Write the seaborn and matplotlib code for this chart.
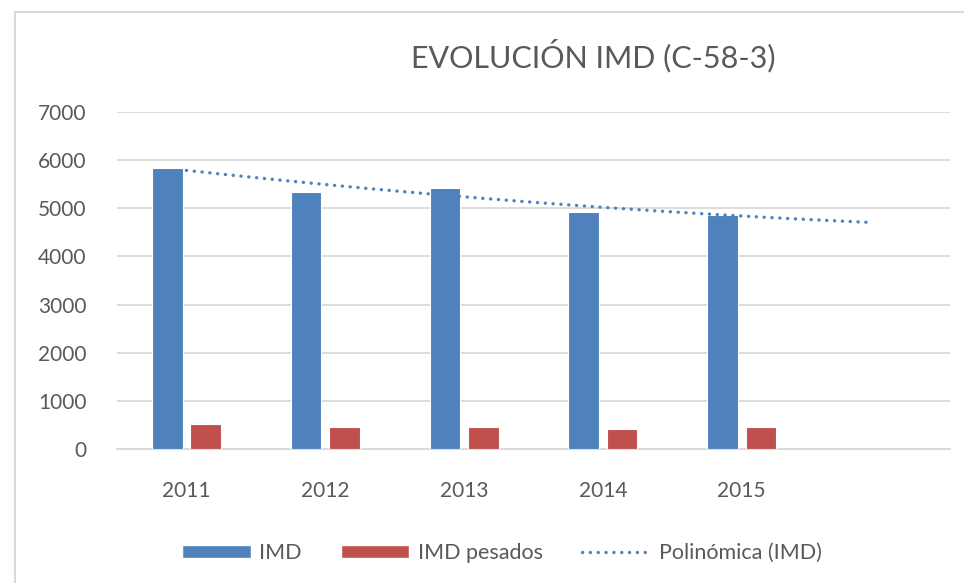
#!/usr/bin/env python3
"""
Evolución IMD (C-58-3)
Bar chart of IMD and heavy-vehicle IMD per year with a 2nd order trendline.
"""
import matplotlib
matplotlib.use('Agg')
import matplotlib.pyplot as plt
import numpy as np
import pandas as pd
import seaborn as sns
from matplotlib.lines import Line2D
from matplotlib.patches import Patch

# Data
years = ['2011', '2012', '2013', '2014', '2015']
imd = [5830, 5345, 5428, 4916, 4860]
imd_pesados = [520, 450, 450, 415, 450]
series_names = ['IMD', 'IMD pesados']
trend_name = 'Polinómica (IMD)'
y_ticks = [0, 1000, 2000, 3000, 4000, 5000, 6000, 7000]

BLUE = '#4F81BD'
RED = '#C0504D'
GRID = '#D9D9D9'
TEXT = '#595959'

sns.set_theme(style='white')
plt.rcParams['font.family'] = ['Lato', 'DejaVu Sans']

df = pd.DataFrame({
    'year': years * 2,
    'value': imd + imd_pesados,
    'series': [series_names[0]] * len(years) + [series_names[1]] * len(years),
})

fig = plt.figure(figsize=(9.64, 5.83), dpi=100)
ax = fig.add_axes([117 / 964, 1 - 449 / 583, (950 - 117) / 964, (449 - 112) / 583])

sns.barplot(data=df, x='year', y='value', hue='series', order=years,
            palette=[BLUE, RED], saturation=1, width=0.553, gap=0.2,
            edgecolor='white', linewidth=0.8, legend=False, ax=ax, zorder=3)

# Polynomial (order 2) trendline, extended one period forward like Excel
xs = np.arange(len(years))
coef = np.polyfit(xs, imd, 2)
xt = np.linspace(0, len(years) - 0.05, 200)
ax.plot(xt, np.polyval(coef, xt), color=BLUE, lw=2.4,
        linestyle=(0, (0.05, 2.3)), dash_capstyle='round', zorder=4)

ax.set_xlim(-0.5, len(years) + 0.5)
ax.set_ylim(0, 7000)
ax.set_yticks(y_ticks)
ax.set_yticklabels([str(t) for t in y_ticks])
ax.set_xlabel('')
ax.set_ylabel('')
ax.grid(axis='y', color=GRID, lw=1.3, zorder=0)
ax.set_axisbelow(True)
for side in ['left', 'right', 'top']:
    ax.spines[side].set_visible(False)
ax.spines['bottom'].set_color(GRID)
ax.spines['bottom'].set_linewidth(1.3)
ax.tick_params(axis='both', length=0, labelsize=15, colors=TEXT)
ax.tick_params(axis='y', pad=22)
ax.tick_params(axis='x', pad=23)

fig.text(593 / 964, 1 - 56 / 583, 'EVOLUCIÓN IMD (C-58-3)', ha='center', va='center',
         fontsize=22, color=TEXT)

handles = [
    Patch(facecolor=BLUE, edgecolor='white', label=series_names[0]),
    Patch(facecolor=RED, edgecolor='white', label=series_names[1]),
    Line2D([0], [0], color=BLUE, lw=2.4, linestyle=(0, (0.05, 2.3)),
           dash_capstyle='round', label=trend_name),
]
fig.legend(handles=handles, loc='center', bbox_to_anchor=(502 / 964, 1 - 553 / 583),
           ncol=3, frameon=False, fontsize=15.5, labelcolor=TEXT,
           handlelength=3.2, handleheight=0.6, handletextpad=0.4, columnspacing=1.8)

# Chart area border (left and top edges visible)
fig.add_artist(Line2D([15 / 964, 15 / 964], [0, 1 - 12 / 583], transform=fig.transFigure,
                      color=GRID, lw=1.5))
fig.add_artist(Line2D([15 / 964, 1], [1 - 12 / 583, 1 - 12 / 583], transform=fig.transFigure,
                      color=GRID, lw=1.5))

fig.savefig('out.png', dpi=100, facecolor='white')
